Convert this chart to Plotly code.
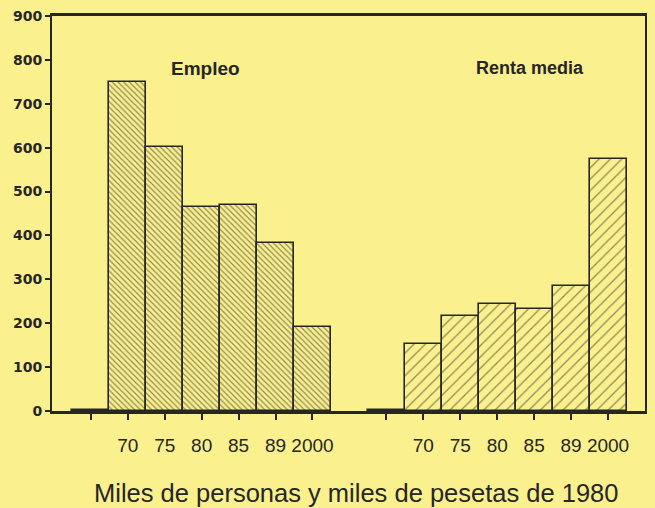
import plotly.graph_objects as go

# ---- data ----
year_labels = ["", "70", "75", "80", "85", "89", "2000"]
empleo = [3, 750, 602, 465, 470, 383, 192]        # miles de personas
renta = [3, 152, 216, 243, 232, 285, 575]          # miles de pesetas de 1980
y_ticks = [0, 100, 200, 300, 400, 500, 600, 700, 800, 900]

# slot positions: empleo group, one empty slot, renta group
x_empleo = list(range(len(empleo)))
x_renta = [len(empleo) + 1 + i for i in range(len(renta))]

BG = "#FAF08E"
INK = "#262626"

fig = go.Figure()
fig.add_trace(go.Bar(
    x=x_empleo, y=empleo, width=1, name="Empleo",
    marker=dict(color=BG, line=dict(color=INK, width=1.6),
                pattern=dict(shape="\\", size=4, solidity=0.3,
                             fgcolor=INK, bgcolor=BG)),
))
fig.add_trace(go.Bar(
    x=x_renta, y=renta, width=1, name="Renta media",
    marker=dict(color=BG, line=dict(color=INK, width=1.6),
                pattern=dict(shape="/", size=8, solidity=0.16,
                             fgcolor=INK, bgcolor=BG)),
))

fig.update_layout(
    width=655, height=508,
    margin=dict(l=52, r=8, t=15, b=97),
    paper_bgcolor=BG, plot_bgcolor=BG,
    barmode="overlay", bargap=0, showlegend=False,
    font=dict(family="Liberation Sans, Arial, sans-serif", color=INK),
    xaxis=dict(
        range=[-1.05, 15], showgrid=False, zeroline=False,
        tickvals=x_empleo + x_renta, ticktext=year_labels + year_labels,
        ticks="outside", ticklen=6, tickwidth=1.5, tickcolor=INK,
        ticklabelstandoff=9,
        showline=True, linewidth=2.5, linecolor=INK, mirror=True,
        tickfont=dict(family="Liberation Sans, Arial, sans-serif",
                      size=19, color=INK),
    ),
    yaxis=dict(
        range=[0, 900], tickvals=y_ticks, showgrid=False, zeroline=False,
        ticks="outside", ticklen=5, tickwidth=1.5, tickcolor=INK,
        showline=True, linewidth=2, linecolor=INK, mirror=True,
        tickfont=dict(family="DejaVu Sans, sans-serif", size=14,
                      color=INK, weight="bold"),
    ),
    annotations=[
        dict(text="<b>Empleo</b>", x=3.1, y=780, xref="x", yref="y",
             showarrow=False, font=dict(size=19, color=INK)),
        dict(text="<b>Renta media</b>", x=11.9, y=782, xref="x", yref="y",
             showarrow=False, font=dict(size=18, color=INK)),
        dict(text="Miles de personas y miles de pesetas de 1980",
             x=0.512, y=-0.207, xref="paper", yref="paper",
             xanchor="center", yanchor="middle", showarrow=False,
             font=dict(size=25.5, color=INK)),
    ],
)

fig.write_html("out.html", config={"displayModeBar": False},
               post_script="document.body.style.margin='0';")
